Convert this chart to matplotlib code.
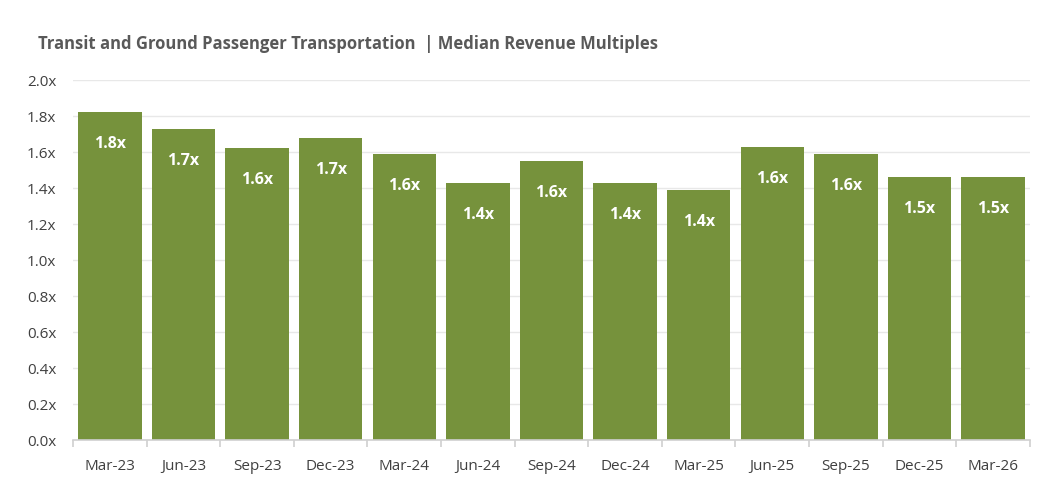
import matplotlib
matplotlib.use("Agg")
import matplotlib.pyplot as plt
from matplotlib.ticker import FuncFormatter, FixedLocator

categories = ["Mar-23", "Jun-23", "Sep-23", "Dec-23", "Mar-24", "Jun-24", "Sep-24",
              "Dec-24", "Mar-25", "Jun-25", "Sep-25", "Dec-25", "Mar-26"]
values = [1.82, 1.73, 1.62, 1.68, 1.59, 1.43, 1.55, 1.43, 1.39, 1.63, 1.59, 1.46, 1.46]
title = "Transit and Ground Passenger Transportation  | Median Revenue Multiples"

plt.rcParams['font.family'] = ['Open Sans', 'DejaVu Sans']

fig = plt.figure(figsize=(10.59, 5.0), dpi=100)
ax = fig.add_axes([0.069, 0.12, 0.9035, 0.72])

green = "#76923c"
x = list(range(len(categories)))
bars = ax.bar(x, values, width=0.86, color=green, zorder=2)

for xi, v in zip(x, values):
    ax.annotate(f"{v:.1f}x", (xi, v), xytext=(0, -23), textcoords="offset points",
                ha="center", va="center", color="white", fontsize=11.5, fontweight="bold")

ax.set_xlim(-0.5, len(categories) - 0.5)
ax.set_ylim(0, 2.0)
ax.set_yticks([i * 0.2 for i in range(11)])
ax.yaxis.set_major_formatter(FuncFormatter(lambda v, p: f"{v:.1f}x"))
ax.set_xticks(x)
ax.set_xticklabels(categories)
ax.xaxis.set_minor_locator(FixedLocator([i - 0.5 for i in range(len(categories) + 1)]))

ax.grid(axis="y", color="#e8e8e8", linewidth=1, zorder=0)
for s in ["top", "right", "left"]:
    ax.spines[s].set_visible(False)
ax.spines["bottom"].set_color("#d0d0d0")
ax.spines["bottom"].set_linewidth(1.2)

ax.tick_params(axis="y", length=0, labelsize=11, labelcolor="#404040", pad=12)
ax.tick_params(axis="x", which="major", length=0, labelsize=11, labelcolor="#404040", pad=14)
ax.tick_params(axis="x", which="minor", length=5, color="#d0d0d0", width=1.2)

fig.text(0.036, 0.912, title, fontsize=12, fontweight="bold", color="#595959",
         ha="left", va="center")

fig.savefig("out.png", dpi=100, facecolor="white")
